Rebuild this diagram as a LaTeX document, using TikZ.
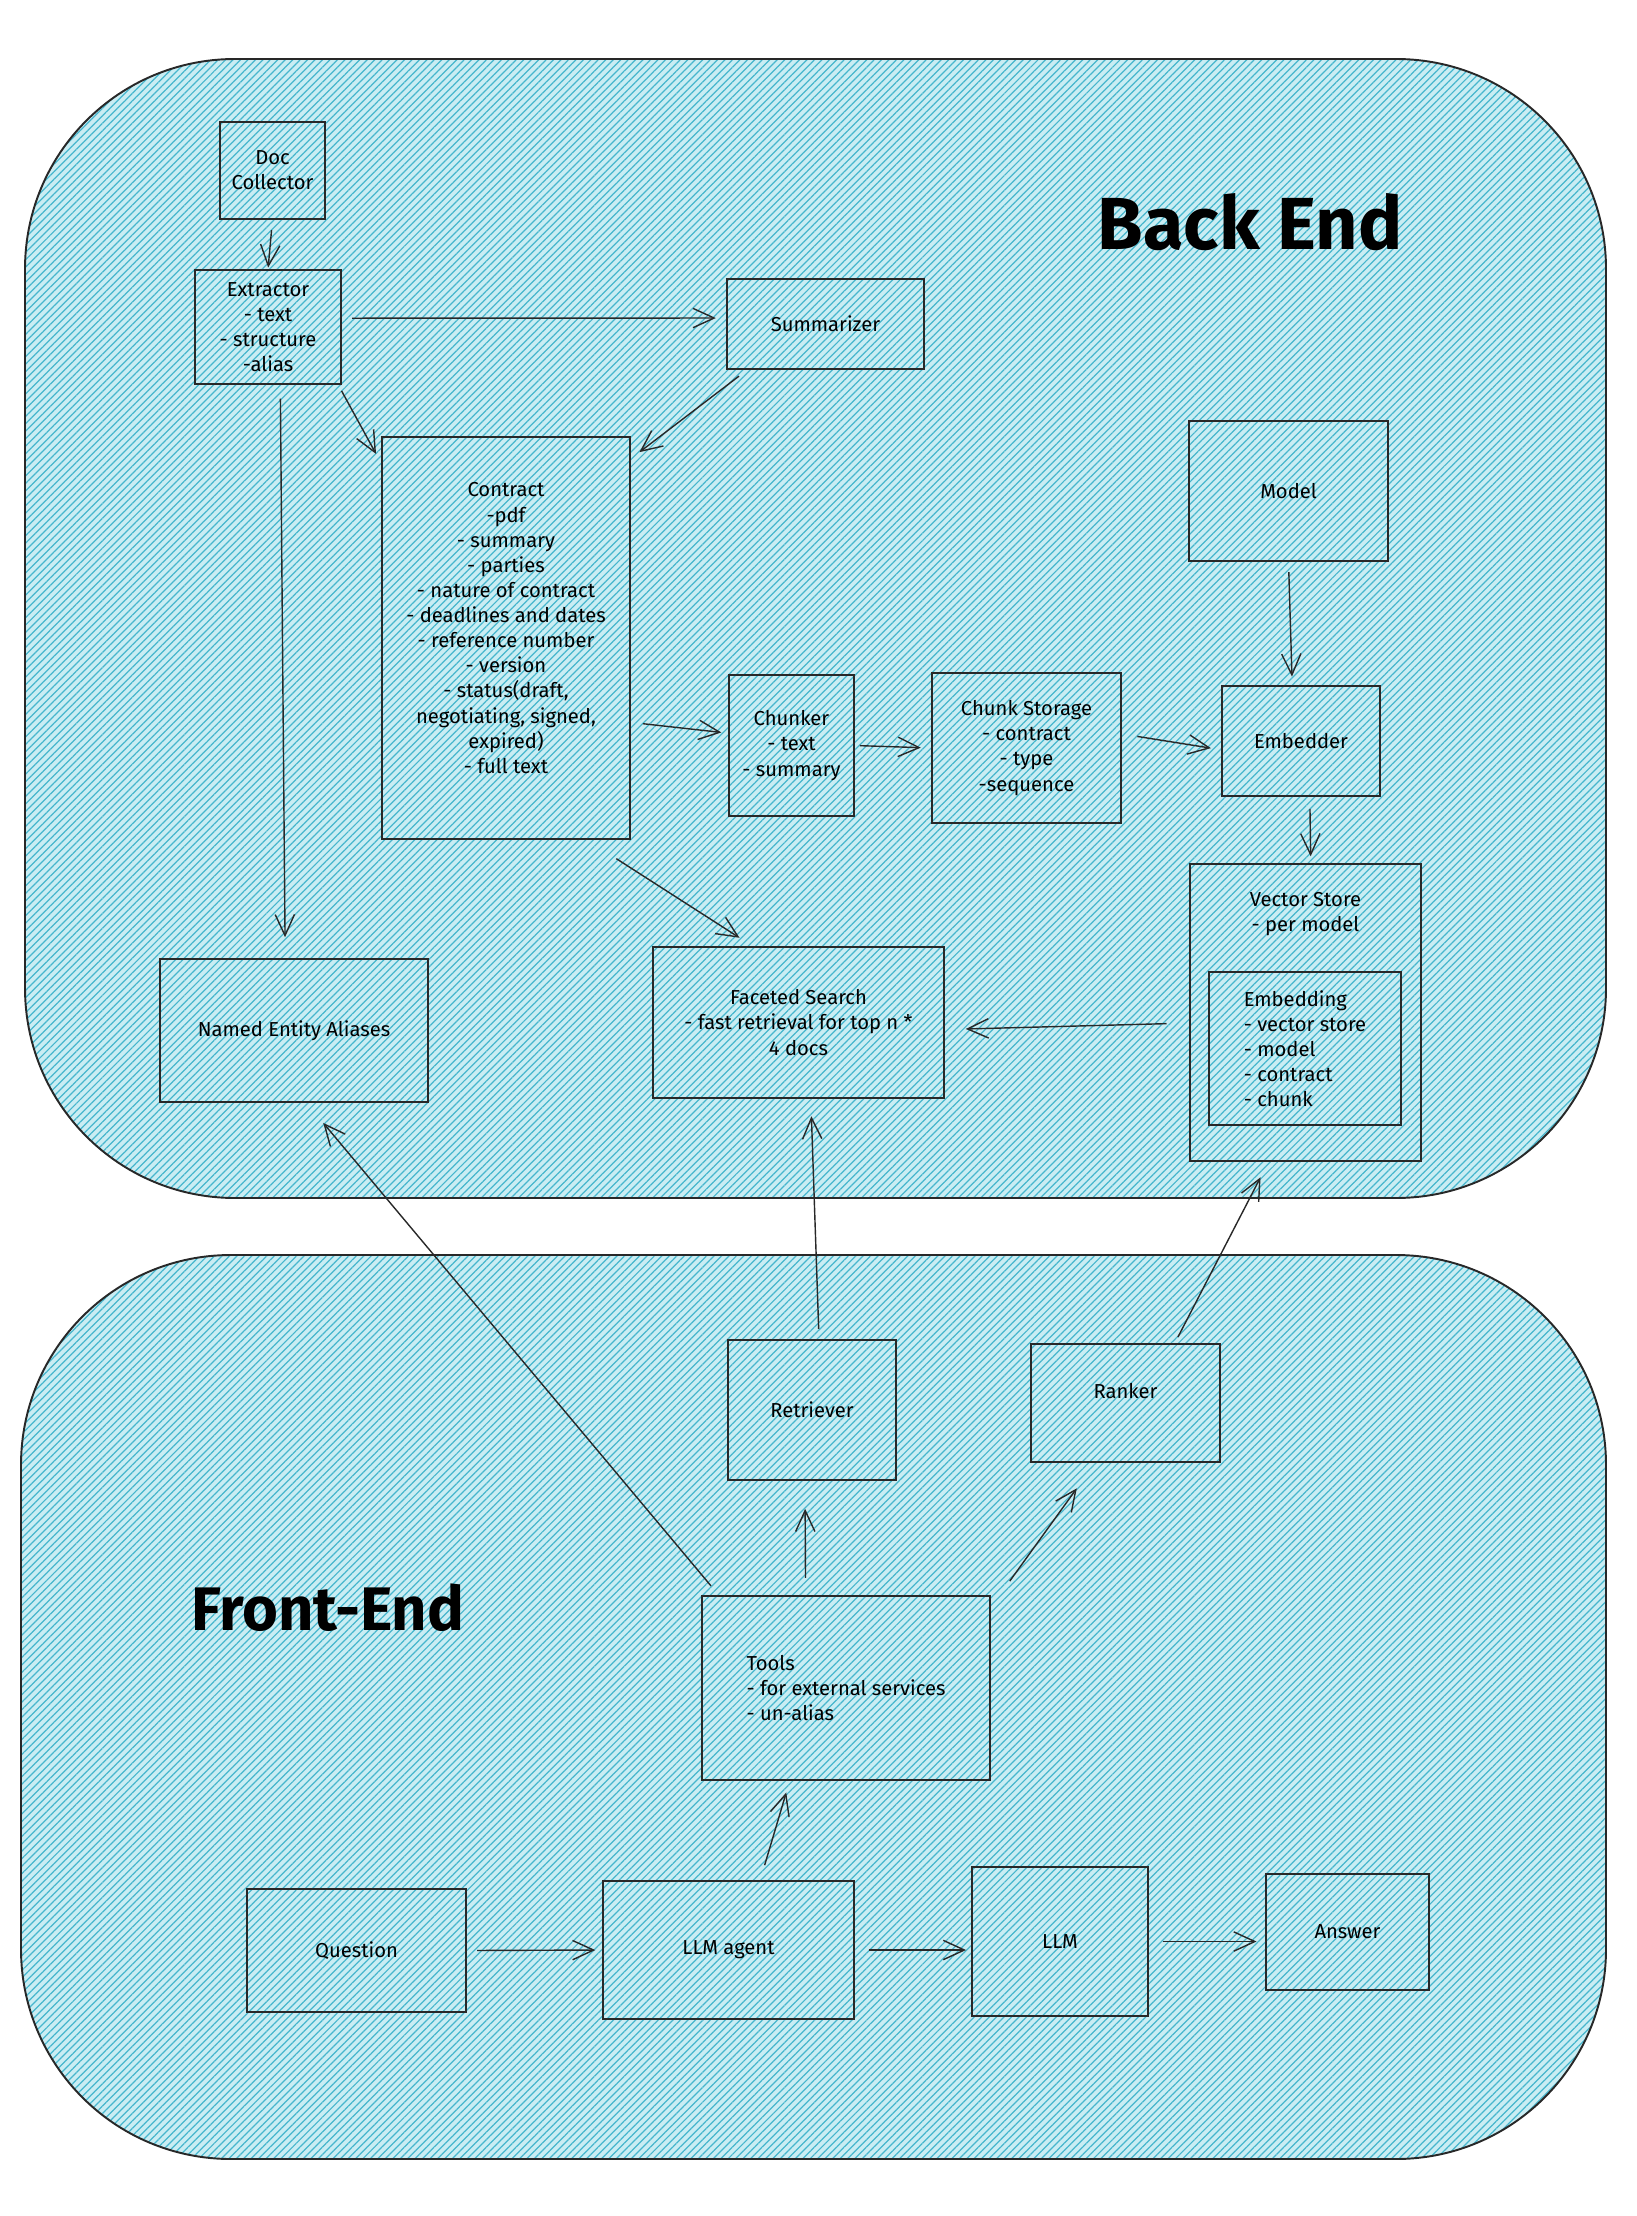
\documentclass[tikz,border=0pt]{standalone}
\usepackage{fontspec}
\setmainfont{Fira Sans}
\usetikzlibrary{arrows.meta,patterns.meta}
\definecolor{hatchbg}{RGB}{202,237,243}
\definecolor{hatchfg}{RGB}{70,182,205}
\definecolor{inkline}{RGB}{40,40,40}

\begin{document}
\begin{tikzpicture}[x=0.02cm, y=-0.02cm,
  region/.style={draw=inkline, line width=1.1pt, rounded corners=4.2cm,
    preaction={fill=hatchbg},
    pattern={Lines[angle=45,distance=3pt,line width=0.7pt]}, pattern color=hatchfg},
  txt/.style={font=\fontsize{11.5}{14.3}\selectfont},
  box/.style={txt, draw=inkline, line width=0.8pt, align=center, inner sep=2pt},
  arr/.style={draw=inkline, line width=0.8pt, -{Straight Barb[length=12pt,width=11pt]},
    shorten <=6pt, shorten >=6pt},
  title/.style={font=\fontsize{40}{48}\selectfont\bfseries}]

\useasboundingbox (0,0) rectangle (1636,2216);

% back end
\draw[region] (25,59) rectangle (1606,1198);
% front end
\draw[region] (21,1255) rectangle (1606,2159);

\node[title, font=\fontsize{42}{50}\selectfont\bfseries] (backtitle) at (1250,222) {Back End};
\node[title, font=\fontsize{35}{42}\selectfont\bfseries] (fronttitle) at (328,1608) {Front-End};

\node[box, minimum width=2.10cm, minimum height=1.94cm] (doc) at (272.5,170.5) {Doc\\Collector};
\node[box, minimum width=2.92cm, minimum height=2.28cm] (extr) at (268,327) {Extractor\\- text\\- structure\\-alias};
\node[box, minimum width=3.94cm, minimum height=1.80cm] (summ) at (825.5,324) {Summarizer};
\node[box, minimum width=4.96cm, minimum height=8.04cm] (contract) at (506,638)
  {Contract\\-pdf\\- summary\\- parties\\- nature of contract\\- deadlines and dates\\- reference number\\- version\\- status(draft,\\negotiating, signed,\\expired)\\- full text\\[-3pt]};
\node[box, minimum width=3.98cm, minimum height=2.80cm] (model) at (1288.5,491) {Model};
\node[box, minimum width=2.50cm, minimum height=2.82cm] (chunker) at (791.5,745.5) {Chunker\\- text\\- summary};
\node[box, minimum width=3.78cm, minimum height=3.00cm] (chunkstore) at (1026.5,748) {Chunk Storage\\- contract\\- type\\-sequence};
\node[box, minimum width=3.16cm, minimum height=2.20cm] (embedder) at (1301,741) {Embedder};
\node[box, minimum width=4.62cm, minimum height=5.94cm,
  label={[txt, align=center, anchor=north, yshift=-0.45cm]north:{Vector Store\\- per model}}] (vstore) at (1305.5,1012.5) {};
\node[box, align=left, minimum width=3.84cm, minimum height=3.06cm] (embedding) at (1305,1048.5) {Embedding\\- vector store\\- model\\- contract\\- chunk};
\node[box, minimum width=5.82cm, minimum height=3.02cm] (facet) at (798.5,1022.5) {Faceted Search\\- fast retrieval for top n *\\4 docs};
\node[box, minimum width=5.36cm, minimum height=2.86cm] (nea) at (294,1030.5) {Named Entity Aliases};

\node[box, minimum width=3.36cm, minimum height=2.80cm] (retr) at (812,1410) {Retriever};
\node[box, minimum width=3.78cm, minimum height=2.36cm] (ranker) at (1125.5,1403) {Ranker\\[0pt]};
\node[box, align=left, minimum width=5.76cm, minimum height=3.68cm] (tools) at (846,1688) {Tools\\- for external services\\- un-alias};
\node[box, minimum width=4.38cm, minimum height=2.46cm] (question) at (356.5,1950.5) {Question};
\node[box, minimum width=5.02cm, minimum height=2.76cm] (agent) at (728.5,1950) {LLM agent};
\node[box, minimum width=3.52cm, minimum height=2.98cm] (llm) at (1060,1941.5) {LLM};
\node[box, minimum width=3.26cm, minimum height=2.32cm] (answer) at (1347.5,1932) {Answer};

\draw[arr, shorten >=1pt] (doc.south) -- (extr.north);
\draw[arr] ([yshift=5pt]extr.east) -- ([yshift=3.4pt]summ.west);
\draw[arr, shorten <=4pt, shorten >=0pt] ([xshift=-2pt]extr.south east) -- ([xshift=-3pt,yshift=-10pt]contract.north west);
\draw[arr, shorten >=0pt] ([xshift=12pt]summ.south west) -- ([xshift=5pt,yshift=-9pt]contract.north east);
\draw[arr, shorten <=8pt, shorten >=12pt] ([xshift=7pt]extr.south) -- ([xshift=-5pt]nea.north);
\draw[arr, shorten <=7pt, shorten >=4pt] ([yshift=-48pt]contract.east) -- ([yshift=7pt]chunker.west);
\draw[arr, shorten <=3pt] (chunker.east) -- (chunkstore.west);
\draw[arr, shorten <=9pt] ([yshift=8pt]chunkstore.east) -- ([yshift=-5pt]embedder.west);
\draw[arr, shorten >=5pt] (model.south) -- ([xshift=-5pt]embedder.north);
\draw[arr, shorten <=7pt, shorten >=4pt] ([xshift=5pt]embedder.south) -- ([xshift=3pt]vstore.north);
\draw[arr, shorten <=13pt, shorten >=12pt] ([yshift=-6pt]vstore.west) -- ([yshift=-4pt]facet.east);
\draw[arr, shorten <=20pt, shorten >=9pt] ([xshift=-25pt]contract.south east) -- ([xshift=-26pt]facet.north);
\draw[arr, shorten >=10pt] ([xshift=4pt]retr.north) -- ([xshift=7pt]facet.south);
\draw[arr, shorten <=4pt, shorten >=10pt] ([xshift=28pt]ranker.north) -- ([xshift=-21pt]vstore.south);
\draw[arr, shorten <=7pt, shorten >=15pt] ([xshift=10pt]tools.north west) -- ([xshift=7pt]nea.south);
\draw[arr, shorten <=10pt, shorten >=16pt] ([xshift=-23pt]tools.north) -- ([xshift=-4pt]retr.south);
\draw[arr, shorten <=10pt, shorten >=18pt] ([xshift=5pt]tools.north east) -- ([xshift=37pt]ranker.south west);
\draw[arr, shorten <=9pt, shorten >=7pt] ([xshift=18pt]agent.north) -- ([xshift=-32pt]tools.south);
\draw[arr, shorten >=4pt] (question.east) -- (agent.west);
\draw[arr, shorten <=8pt, shorten >=3pt] (agent.east) -- (agent.east -| llm.west);
\draw[arr, shorten <=8pt, shorten >=5pt] (llm.east) -- (llm.east -| answer.west);

\end{tikzpicture}
\end{document}
